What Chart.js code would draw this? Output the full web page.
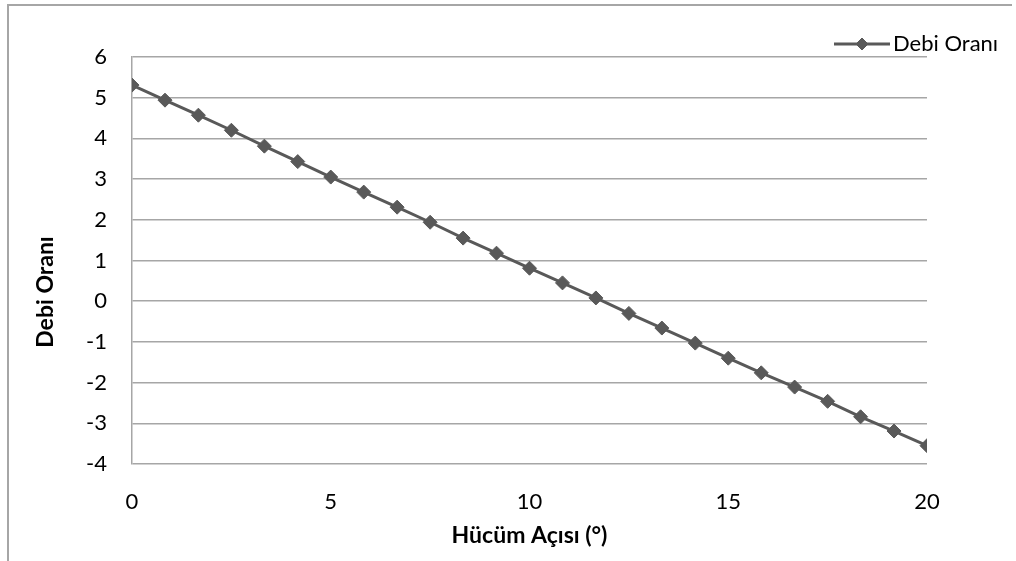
<!DOCTYPE html>
<html>
<head>
<meta charset="utf-8">
<script src="https://cdn.jsdelivr.net/npm/chart.js@4.4.1/dist/chart.umd.min.js"></script>
<style>
    html, body { margin: 0; padding: 0; background: #fff; }
    #wrap { position: relative; width: 1016px; height: 561px; }
</style>
</head>
<body>
<div id="wrap"><canvas id="chart" width="1016" height="561"></canvas></div>
<script>
// Hücüm açısı (x) and debi oranı (y)
const angles = [0, 0.83, 1.67, 2.5, 3.33, 4.17, 5, 5.83, 6.67, 7.5, 8.33, 9.17, 10,
    10.83, 11.67, 12.5, 13.33, 14.17, 15, 15.83, 16.67, 17.5, 18.33, 19.17, 20];
const debiOrani = [5.31, 4.94, 4.57, 4.2, 3.81, 3.43, 3.05, 2.68, 2.31, 1.94, 1.55, 1.18, 0.81,
    0.45, 0.08, -0.3, -0.66, -1.03, -1.4, -1.76, -2.11, -2.46, -2.84, -3.19, -3.55];
const xTicks = [0, 5, 10, 15, 20];
const yTicks = [-4, -3, -2, -1, 0, 1, 2, 3, 4, 5, 6];

const seriesName = 'Debi Oranı';
const xTitle = 'Hücüm Açısı (°)';
const yTitle = 'Debi Oranı';

const FONT = 'Lato, "Open Sans", sans-serif';
const LINE_COLOR = '#595959';
const GRID_COLOR = '#a6a6a6';

// outer frame, axis titles and the legend, drawn like the Excel original
const decorations = {
    id: 'decorations',
    beforeDraw(chart) {
        const ctx = chart.ctx;
        ctx.save();
        ctx.strokeStyle = GRID_COLOR;
        ctx.lineWidth = 2;
        ctx.beginPath();
        ctx.moveTo(8, 561);
        ctx.lineTo(8, 5);
        ctx.lineTo(1012, 5);
        ctx.stroke();
        ctx.restore();
    },
    afterDraw(chart) {
        const ctx = chart.ctx;
        const area = chart.chartArea;
        ctx.save();
        ctx.fillStyle = '#000';
        ctx.font = 'bold 23px ' + FONT;
        ctx.textAlign = 'center';
        ctx.textBaseline = 'middle';
        ctx.fillText(xTitle, (area.left + area.right) / 2, 536);

        ctx.translate(46, 292);
        ctx.rotate(-Math.PI / 2);
        ctx.fillText(yTitle, 0, 0);
        ctx.restore();

        // legend
        const ds = chart.data.datasets[0];
        ctx.save();
        ctx.strokeStyle = ds.borderColor;
        ctx.fillStyle = ds.backgroundColor;
        ctx.lineWidth = ds.borderWidth;
        ctx.beginPath();
        ctx.moveTo(834, 44);
        ctx.lineTo(890, 44);
        ctx.stroke();
        ctx.lineWidth = 1;
        Chart.helpers.drawPoint(ctx, {
            pointStyle: 'rectRot', radius: 6, borderWidth: 1
        }, 862, 44);
        ctx.fillStyle = '#000';
        ctx.font = '22px ' + FONT;
        ctx.textAlign = 'left';
        ctx.textBaseline = 'middle';
        ctx.fillText(seriesName, 893, 44);
        ctx.restore();
    }
};

new Chart(document.getElementById('chart'), {
    type: 'line',
    data: {
        datasets: [{
            label: seriesName,
            data: angles.map((a, i) => ({ x: a, y: debiOrani[i] })),
            borderColor: LINE_COLOR,
            backgroundColor: LINE_COLOR,
            borderWidth: 3,
            pointStyle: 'rectRot',
            pointRadius: 7,
            pointBorderWidth: 1,
            tension: 0
        }]
    },
    options: {
        responsive: false,
        animation: false,
        layout: { padding: { left: 20, right: 89, top: 57, bottom: 10 } },
        plugins: {
            legend: { display: false },
            tooltip: { enabled: false }
        },
        scales: {
            x: {
                type: 'linear',
                min: 0,
                max: 20,
                afterBuildTicks: (axis) => { axis.ticks = xTicks.map(v => ({ value: v })); },
                afterFit: (axis) => { axis.height = 87; },
                grid: { display: false },
                border: { display: false },
                ticks: { color: '#000', font: { family: FONT, size: 22 }, padding: 17, maxRotation: 0 }
            },
            y: {
                min: -4,
                max: 6,
                afterBuildTicks: (axis) => { axis.ticks = yTicks.map(v => ({ value: v })); },
                afterFit: (axis) => { axis.width = 112; },
                grid: { color: GRID_COLOR, lineWidth: 1.5, drawTicks: false },
                border: { display: true, color: GRID_COLOR, width: 1.5 },
                ticks: { color: '#000', font: { family: FONT, size: 22 }, padding: 25 }
            }
        }
    },
    plugins: [decorations]
});
</script>
</body>
</html>
